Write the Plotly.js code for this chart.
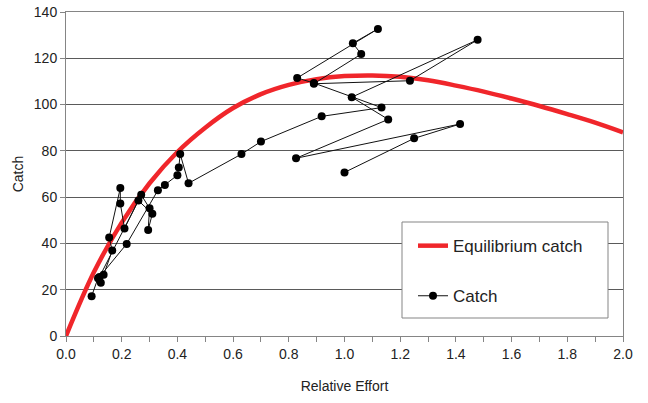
<!DOCTYPE html>
<html>
<head>
<meta charset="utf-8">
<script src="https://cdn.plot.ly/plotly-3.0.1.min.js"></script>
<style>html,body{margin:0;padding:0;background:#fff;}#chart{width:648px;height:403px;}</style>
</head>
<body>
<div id="chart"></div>
<script>
// Equilibrium catch curve
const eqEffort = [0, 0.1, 0.2, 0.3, 0.4, 0.5, 0.6, 0.7, 0.8, 0.9, 1.0, 1.1, 1.2, 1.3, 1.4, 1.5, 1.6, 1.7, 1.8, 1.9, 2.0];
const eqCatch  = [0, 27.5, 49, 66, 79.5, 90, 98.5, 104.5, 108.5, 111, 112.3, 112.6, 112, 110.5, 108.2, 105.6, 102.6, 99.4, 95.9, 92.2, 88];

const effort = [0.092, 0.115, 0.125, 0.135, 0.166, 0.155, 0.195, 0.195, 0.21, 0.27, 0.30, 0.295, 0.31, 0.26, 0.12, 0.218, 0.33, 0.355, 0.40, 0.405, 0.41, 0.44, 0.63, 0.70, 0.918, 1.133, 0.89, 0.83, 1.12, 1.03, 1.06, 0.89, 1.235, 1.478, 1.026, 1.157, 0.826, 1.415, 1.25, 1.0];
const catchVals = [17.2, 25.0, 23.0, 26.5, 36.9, 42.6, 63.9, 57.3, 46.5, 61.0, 55.2, 45.8, 52.8, 58.5, 25.5, 39.8, 63.0, 65.3, 69.5, 72.8, 78.6, 66.0, 78.6, 84.0, 94.9, 98.7, 109.3, 111.5, 132.7, 126.5, 121.8, 109.0, 110.3, 128.0, 103.2, 93.6, 76.8, 91.6, 85.4, 70.7];

const xTicks = [0, 0.2, 0.4, 0.6, 0.8, 1.0, 1.2, 1.4, 1.6, 1.8, 2.0];
const xTickText = ['0.0','0.2','0.4','0.6','0.8','1.0','1.2','1.4','1.6','1.8','2.0'];
const yTicks = [0, 20, 40, 60, 80, 100, 120, 140];

const font = 'Liberation Sans, Arial, sans-serif';

const traces = [
  {x: eqEffort, y: eqCatch, type: 'scatter', mode: 'lines', name: 'Equilibrium catch',
   line: {color: '#f0262b', width: 4.5, shape: 'spline', smoothing: 1}, legendgroup: 'a'},
  {x: effort, y: catchVals, type: 'scatter', mode: 'lines+markers', name: 'Catch',
   line: {color: '#111', width: 1}, marker: {color: '#000', size: 8}, legendgroup: 'b'}
];

const layout = {
  width: 648, height: 403,
  margin: {l: 66, r: 25, t: 12, b: 67},
  paper_bgcolor: '#fff', plot_bgcolor: '#fff',
  font: {family: font, size: 14, color: '#222'},
  showlegend: true,
  legend: {x: 0.623, y: 0.333, xanchor: 'left', yanchor: 'top', bgcolor: 'rgba(0,0,0,0)',
           borderwidth: 0, font: {family: font, size: 17, color: '#222'}, tracegroupgap: 25},
  xaxis: {range: [0, 2.0], tickvals: xTicks, ticktext: xTickText, showgrid: false, zeroline: false,
          showline: true, mirror: true, linecolor: '#858585', linewidth: 1,
          ticks: 'outside', ticklen: 5, tickcolor: '#858585',
          minor: {dtick: 0.1, ticks: 'outside', ticklen: 5, tickcolor: '#858585', showgrid: false},
          tickfont: {family: font, size: 14, color: '#222'},
          title: {text: 'Relative Effort', font: {family: font, size: 14, color: '#222'}, standoff: 20}},
  yaxis: {range: [0, 140], tickvals: yTicks, showgrid: true, gridcolor: '#5a5a5a', gridwidth: 1, zeroline: false,
          showline: true, mirror: true, linecolor: '#858585', linewidth: 1,
          ticks: 'outside', ticklen: 5, tickcolor: '#858585',
          tickfont: {family: font, size: 14, color: '#222'},
          title: {text: 'Catch', font: {family: font, size: 14, color: '#222'}, standoff: 6}},
  shapes: [
    {type: 'rect', xref: 'paper', yref: 'paper', x0: (402-66)/557, x1: (608-66)/557,
     y0: (336-318)/324, y1: (336-222)/324, fillcolor: '#fff', line: {color: '#858585', width: 1}, layer: 'above'}
  ]
};

Plotly.newPlot('chart', traces, layout, {displayModeBar: false, staticPlot: true});
</script>
</body>
</html>
